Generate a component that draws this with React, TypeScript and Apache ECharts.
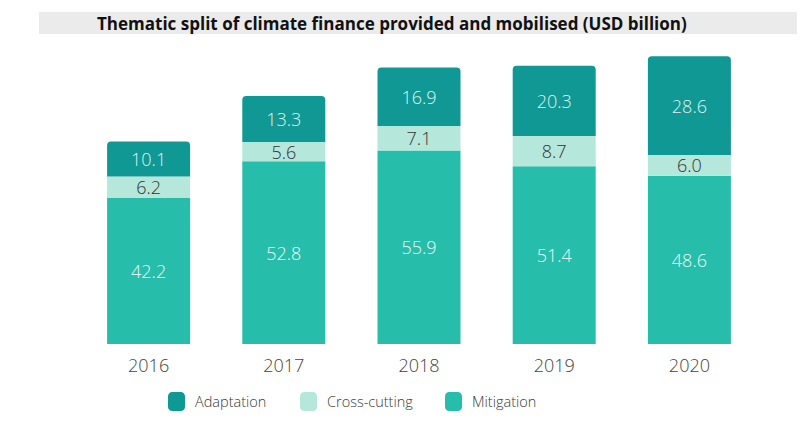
import React, { useEffect, useRef } from "react";
import * as echarts from "echarts";

const categories = ["2016", "2017", "2018", "2019", "2020"];
const mitigation = [42.2, 52.8, 55.9, 51.4, 48.6];
const crossCutting = [6.2, 5.6, 7.1, 8.7, 6.0];
const adaptation = [10.1, 13.3, 16.9, 20.3, 28.6];
const seriesNames = ["Adaptation", "Cross-cutting", "Mitigation"];
const titleText = "Thematic split of climate finance provided and mobilised (USD billion)";

const FONT = "'Open Sans', 'Noto Sans', sans-serif";

export default function App() {
  const ref = useRef<HTMLDivElement>(null);
  useEffect(() => {
    if (!ref.current) return;
    const chart = echarts.init(ref.current, undefined, { renderer: "svg" });
    const lbl = (color: string) => ({
      show: true,
      position: "inside",
      color,
      fontFamily: FONT,
      fontSize: 18,
      fontWeight: 300,
      formatter: (p: any) => Number(p.value).toFixed(1),
    });
    const legendLefts = [168, 300, 445];
    chart.setOption({
      animation: false,
      backgroundColor: "#ffffff",
      textStyle: { fontFamily: FONT },
      graphic: [
        {
          type: "rect",
          shape: { x: 39, y: 12, width: 758, height: 22 },
          style: { fill: "#ebebeb" },
          z: 0,
        },
        {
          type: "text",
          x: 97,
          y: 23,
          style: {
            text: titleText,
            fontFamily: FONT,
            fontWeight: "bold",
            fontSize: 17,
            fill: "#111111",
            verticalAlign: "middle",
          },
          z: 1,
        },
      ],
      grid: { left: 81, right: 55, top: 32.6, bottom: 78 },
      legend: seriesNames.map((n, i) => ({
        left: legendLefts[i],
        top: 392,
        padding: 0,
        itemWidth: 17,
        itemHeight: 19,
        textStyle: {
          fontFamily: FONT,
          fontSize: 14.5,
          fontWeight: 300,
          color: "#3a3a3a",
          padding: [0, 0, 0, 5],
        },
        data: [n],
      })),
      xAxis: {
        type: "category",
        data: categories,
        axisLine: { show: false },
        axisTick: { show: false },
        axisLabel: { color: "#444444", fontSize: 18, fontWeight: 300, fontFamily: FONT, margin: 12 },
      },
      yAxis: {
        type: "value",
        min: 0,
        max: 90,
        show: false,
        splitLine: { show: false },
      },
      series: [
        {
          name: "Mitigation",
          type: "bar",
          stack: "total",
          barWidth: 83,
          data: mitigation,
          itemStyle: { color: "#27bdab" },
          label: lbl("#e8f8f5"),
        },
        {
          name: "Cross-cutting",
          type: "bar",
          stack: "total",
          barWidth: 83,
          data: crossCutting,
          itemStyle: { color: "#b5e7db" },
          label: lbl("#333333"),
        },
        {
          name: "Adaptation",
          type: "bar",
          stack: "total",
          barWidth: 83,
          data: adaptation,
          itemStyle: { color: "#0f9894", borderRadius: [4, 4, 0, 0] },
          label: lbl("#dff3f1"),
        },
      ],
    });
    return () => chart.dispose();
  }, []);
  return (
    <div
      ref={ref}
      style={{ position: "absolute", left: 0, top: 0, width: 812, height: 422 }}
    />
  );
}
